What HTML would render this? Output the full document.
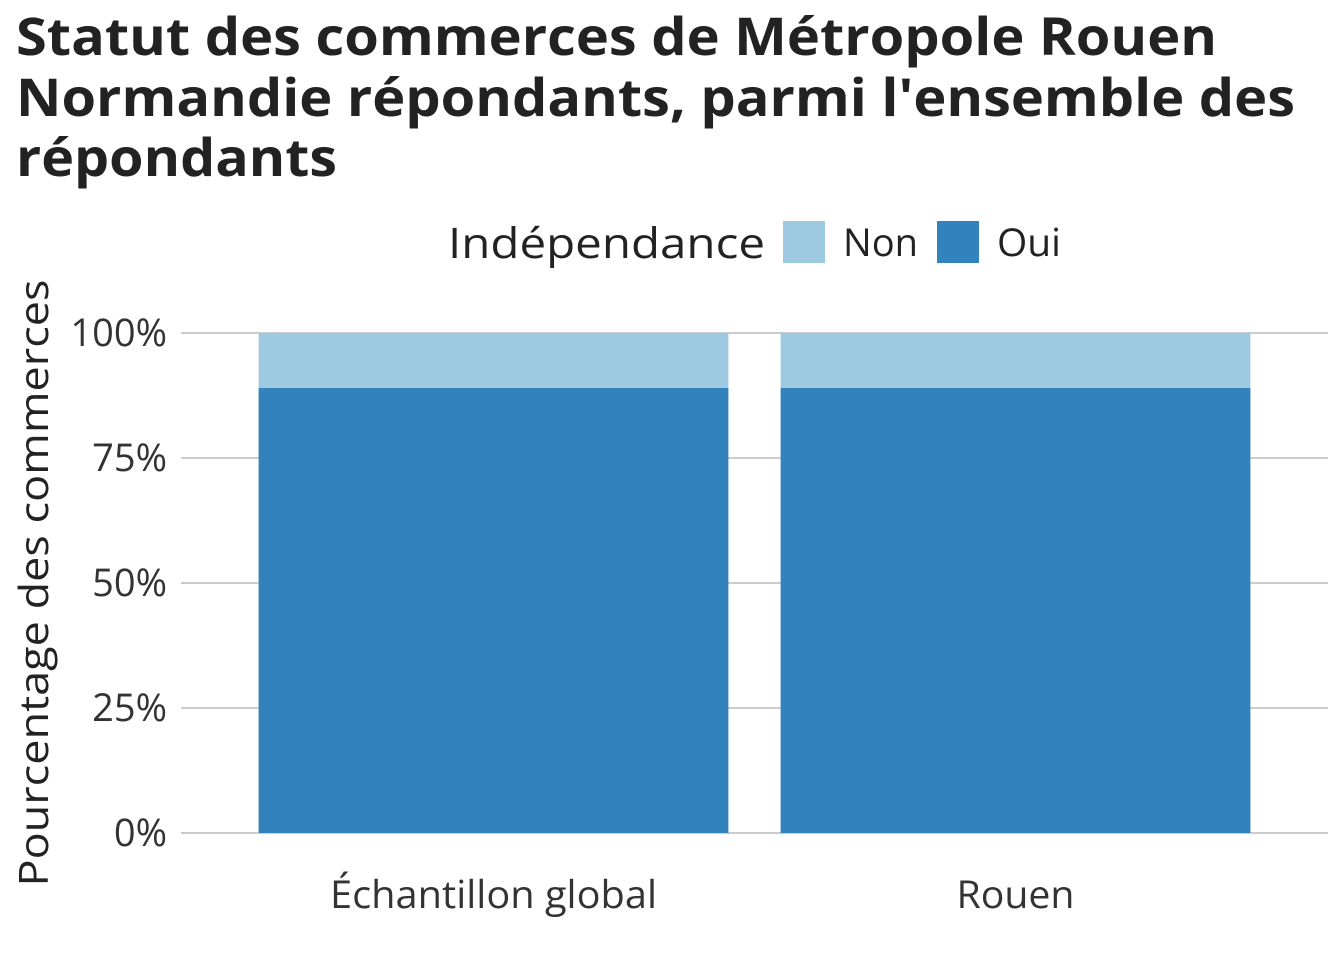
<!DOCTYPE html>
<html><head><meta charset="utf-8"><style>
body{margin:0;background:#fff;width:1344px;height:960px;overflow:hidden;font-family:"Open Sans","Liberation Sans","DejaVu Sans",sans-serif}
</style></head><body>
<svg width="1344" height="960">
<g font-weight="bold" font-size="52" fill="#222">
<text x="16" y="55" textLength="1201" lengthAdjust="spacingAndGlyphs">Statut des commerces de Métropole Rouen</text>
<text x="16" y="116" textLength="1279" lengthAdjust="spacingAndGlyphs">Normandie répondants, parmi l'ensemble des</text>
<text x="16" y="176" textLength="321" lengthAdjust="spacingAndGlyphs">répondants</text>
</g>
<g font-size="42" fill="#222">
<text x="448" y="258" textLength="317" lengthAdjust="spacingAndGlyphs">Indépendance</text>
<rect x="783" y="221" width="42" height="42" fill="#9ecae1"/>
<text x="843" y="256" font-size="38" textLength="75" lengthAdjust="spacingAndGlyphs">Non</text>
<rect x="937" y="221" width="42" height="42" fill="#3282bd"/>
<text x="997" y="256" font-size="38" textLength="64" lengthAdjust="spacingAndGlyphs">Oui</text>
</g>
<g id="grid"></g><g id="bars"></g><g id="axes"></g>
<text transform="translate(48,583) rotate(-90)" text-anchor="middle" font-size="40" fill="#222" textLength="607" lengthAdjust="spacingAndGlyphs">Pourcentage des commerces</text>
</svg>
<script>
const categories=["Échantillon global","Rouen"];
const ouiValues=[0.89,0.89];
const nonValues=[0.11,0.11];
const yTicks=[0,0.25,0.5,0.75,1];
const yTickLabels=["0%","25%","50%","75%","100%"];
const ns="http://www.w3.org/2000/svg";
const x0=181,x1=1328,y0=833,y1=333;
const y=v=>y0-(y0-y1)*v;
const xStart=232.5,band=522;
const xc=i=>xStart+band*(i+0.5);
const bw=band*0.9;
function mk(t,a,p){const e=document.createElementNS(ns,t);for(const k in a)e.setAttribute(k,a[k]);p.appendChild(e);return e;}
const grid=document.getElementById('grid'),bars=document.getElementById('bars'),axes=document.getElementById('axes');
yTicks.forEach((v,i)=>{
const l=mk('line',{x1:x0,x2:x1,y1:y(v),y2:y(v),stroke:'#cccccc','stroke-width':2},grid);


const t=mk('text',{x:167,y:y(v)+13,'text-anchor':'end','font-size':38,fill:'#333'},axes);
t.textContent=yTickLabels[i];


});
const xLabelWidths=[327,118];
categories.forEach((c,i)=>{
const cx=xc(i);
const r1=mk('rect',{x:cx-bw/2,y:y(ouiValues[i]),width:bw,height:y(0)-y(ouiValues[i]),fill:'#3282bd'},bars);


const r2=mk('rect',{x:cx-bw/2,y:y(ouiValues[i]+nonValues[i]),width:bw,height:y(ouiValues[i])-y(ouiValues[i]+nonValues[i]),fill:'#9ecae1'},bars);


const t=mk('text',{x:cx,y:908,'text-anchor':'middle','font-size':38,fill:'#333',textLength:xLabelWidths[i],lengthAdjust:'spacingAndGlyphs'},axes);
t.textContent=c;


});
</script>
</body></html>
